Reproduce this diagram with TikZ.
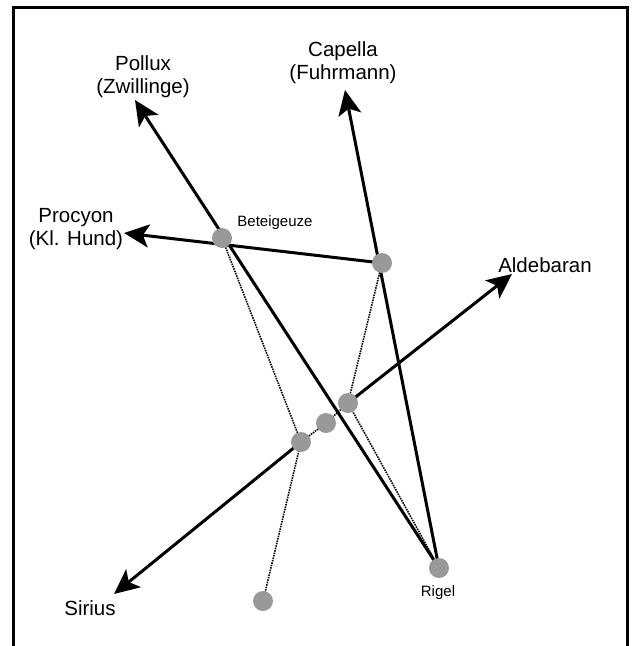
\documentclass[tikz,border=0pt]{standalone}
\usepackage{fontspec}
\setmainfont{Liberation Sans}
\usetikzlibrary{arrows.meta,backgrounds}
\definecolor{sterngrau}{RGB}{153,153,153}

\begin{document}
\begin{tikzpicture}[x=1pt,y=-1pt,
  stern/.style={circle,fill=sterngrau,minimum size=20pt,inner sep=0pt},
  gross/.style={font=\fontsize{20.5}{23}\selectfont,align=center,inner sep=0pt},
  klein/.style={font=\fontsize{15}{17}\selectfont,inner sep=0pt},
  dick/.style={line width=3pt},
  pfeil/.style={dick,-{Stealth[length=25pt,width=23pt,inset=6pt]}},
  punktiert/.style={line width=1.6pt,dash pattern=on 1.5pt off 1pt}]
\useasboundingbox (0,0) rectangle (632,646);
\draw [line width=3pt] (13.5,646) -- (13.5,7) -- (627,7) -- (627,646);
\node [stern] (betei) at (222,238) {};
\node [stern] (bellatrix) at (382,263) {};
\node [stern] (mintaka) at (348,403) {};
\node [stern] (alnilam) at (326,423) {};
\node [stern] (alnitak) at (301,442) {};
\node [stern] (saiph) at (263,601) {};
\node [stern] (rigel) at (439,568) {};
\coordinate (pollux) at (135,100);
\coordinate (capella) at (345,90);
\coordinate (procyon) at (124,233);
\coordinate (aldebaran) at (512,274);
\coordinate (sirius) at (114,594);
\node [gross] (polluxtxt) at (143,77) {Pollux\\(Zwillinge)};
\node [gross] (capellatxt) at (343,63) {Capella\\(Fuhrmann)};
\node [gross] (procyontxt) at (76,229) {Procyon\\(Kl. Hund)};
\node [gross] (aldebarantxt) at (545,265) {Aldebaran};
\node [gross] (siriustxt) at (90,608) {Sirius};
\node [klein] (beteitxt) at (275,223) {Beteigeuze};
\node [klein] (rigeltxt) at (438,593) {Rigel};
\begin{scope}[on background layer]
\draw [pfeil] (rigel.center) -- (pollux);
\draw [pfeil] (rigel.center) -- (capella);
\draw [pfeil] (bellatrix.center) -- (procyon);
\draw [pfeil] (mintaka.center) -- (aldebaran);
\draw [pfeil] (alnitak.center) -- (sirius);
\draw [punktiert] (alnitak.center) -- (alnilam.center) -- (mintaka.center);
\draw [punktiert] (betei.center) -- (alnitak.center) -- (saiph.center);
\draw [punktiert] (bellatrix.center) -- (mintaka.center) -- (rigel.center);
\end{scope}
\end{tikzpicture}
\end{document}
